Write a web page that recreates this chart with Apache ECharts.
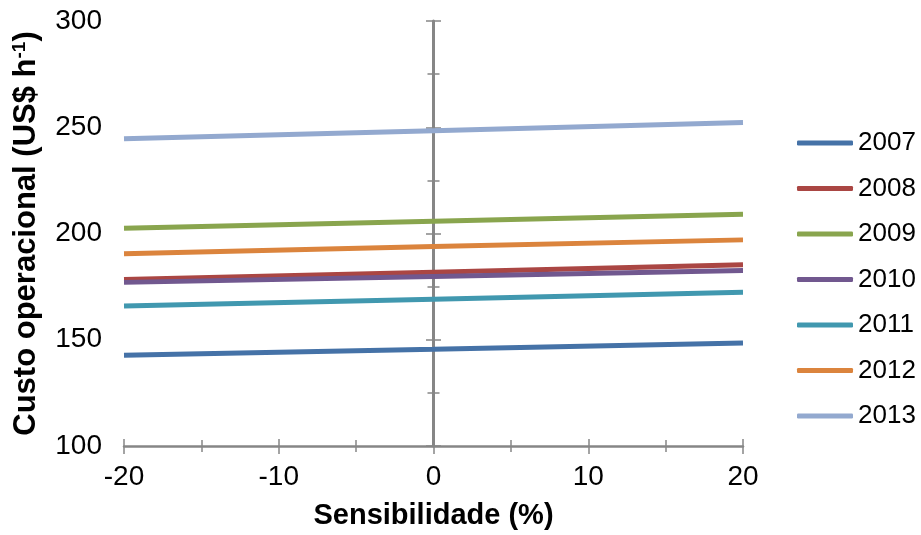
<!DOCTYPE html>
<html>
<head>
<meta charset="utf-8">
<script src="https://cdn.jsdelivr.net/npm/echarts@6/dist/echarts.min.js"></script>
<style>
  html, body { margin: 0; padding: 0; background: #fff; }
  #chart { width: 921px; height: 535px; }
</style>
</head>
<body>
<div id="chart"></div>
<script>
// Operating cost sensitivity, one line per year
const sensitivity = [-20, 0, 20];
const years = ['2007', '2008', '2009', '2010', '2011', '2012', '2013'];
const cost2007 = [142.7, 145.5, 148.5];
const cost2008 = [178.3, 181.8, 185.3];
const cost2009 = [202.5, 205.8, 209.1];
const cost2010 = [177.0, 179.8, 182.6];
const cost2011 = [165.9, 169.1, 172.4];
const cost2012 = [190.5, 193.9, 197.0];
const cost2013 = [244.6, 248.4, 252.2];
const yTicks = [100, 150, 200, 250, 300];
const xTicks = [-20, -10, 0, 10, 20];

const costs = [cost2007, cost2008, cost2009, cost2010, cost2011, cost2012, cost2013];
const colors = ['#4572A7', '#AA4643', '#89A54E', '#71588F', '#4198AF', '#DB843D', '#93A9CF'];

const font = '"Liberation Sans", Arial, sans-serif';
const axisGray = '#868686';

const series = years.map((y, i) => ({
  name: y,
  type: 'line',
  showSymbol: false,
  symbol: 'none',
  data: sensitivity.map((s, j) => [s, costs[i][j]]),
  lineStyle: { width: 5, color: colors[i] },
  itemStyle: { color: colors[i] },
  z: 3
}));

const yMin = yTicks[0], yMax = yTicks[yTicks.length - 1];
const yStep = yTicks[1] - yTicks[0];
const xMin = xTicks[0], xMax = xTicks[xTicks.length - 1];
const xStep = xTicks[1] - xTicks[0];

const tickLabel = { fontFamily: font, fontSize: 28, color: '#000' };

const chart = echarts.init(document.getElementById('chart'), null, { renderer: 'canvas' });
chart.setOption({
  animation: false,
  backgroundColor: '#fff',
  textStyle: { fontFamily: font },
  grid: { left: 124, right: 178, top: 21, bottom: 88, containLabel: false },
  legend: {
    orient: 'vertical',
    left: 797,
    top: 130,
    padding: 0,
    itemWidth: 56,
    itemHeight: 5,
    itemGap: 19.5,
    icon: 'roundRect',
    data: years,
    textStyle: { fontFamily: font, fontSize: 26, color: '#000', lineHeight: 26 }
  },
  xAxis: [
    {
      type: 'value', min: xMin, max: xMax, interval: xStep,
      name: 'Sensibilidade (%)',
      nameLocation: 'middle', nameGap: 55,
      nameTextStyle: { fontFamily: font, fontSize: 29, fontWeight: 'bold', color: '#000' },
      axisLine: { show: true, onZero: false, lineStyle: { color: axisGray, width: 2.5 } },
      axisTick: { show: true, inside: false, length: 8, lineStyle: { color: axisGray, width: 1.5 } },
      minorTick: { show: true, splitNumber: 2, length: 6, lineStyle: { color: axisGray, width: 1.5 } },
      splitLine: { show: false },
      axisLabel: Object.assign({ margin: 17 }, tickLabel)
    },
    {
      type: 'value', min: xMin, max: xMax, interval: xStep, position: 'bottom',
      axisLine: { show: false, onZero: false },
      axisTick: { show: true, inside: true, length: 7, lineStyle: { color: axisGray, width: 1.5 } },
      minorTick: { show: true, splitNumber: 2, length: 6, lineStyle: { color: axisGray, width: 1.5 } },
      splitLine: { show: false },
      axisLabel: { show: false }
    }
  ],
  yAxis: [
    {
      type: 'value', min: yMin, max: yMax, interval: yStep, position: 'left',
      name: '{a|Custo operacional (US$ h}{s|-1}{a|)}',
      nameLocation: 'middle', nameGap: 82, nameRotate: 90,
      nameTextStyle: {
        rich: {
          a: { fontFamily: font, fontSize: 31, fontWeight: 'bold', color: '#000', lineHeight: 32 },
          s: { fontFamily: font, fontSize: 19, fontWeight: 'bold', color: '#000', lineHeight: 32, verticalAlign: 'top', padding: [0, 0, 13, 0] }
        }
      },
      axisLine: { show: false, onZero: false },
      axisTick: { show: false },
      splitLine: { show: false },
      axisLabel: Object.assign({ margin: 22 }, tickLabel)
    },
    {
      type: 'value', min: yMin, max: yMax, interval: yStep, position: 'left',
      axisLine: { show: true, onZero: true, onZeroAxisIndex: 0, lineStyle: { color: axisGray, width: 3 } },
      axisTick: { show: true, inside: false, length: 7.5, lineStyle: { color: axisGray, width: 1.5 } },
      minorTick: { show: true, splitNumber: 2, length: 6, lineStyle: { color: axisGray, width: 1.5 } },
      splitLine: { show: false },
      axisLabel: { show: false }
    },
    {
      type: 'value', min: yMin, max: yMax, interval: yStep, position: 'left',
      axisLine: { show: false, onZero: true, onZeroAxisIndex: 0 },
      axisTick: { show: true, inside: true, length: 7.5, lineStyle: { color: axisGray, width: 1.5 } },
      minorTick: { show: true, splitNumber: 2, length: 6, lineStyle: { color: axisGray, width: 1.5 } },
      splitLine: { show: false },
      axisLabel: { show: false }
    }
  ],
  series: series
});
</script>
</body>
</html>
